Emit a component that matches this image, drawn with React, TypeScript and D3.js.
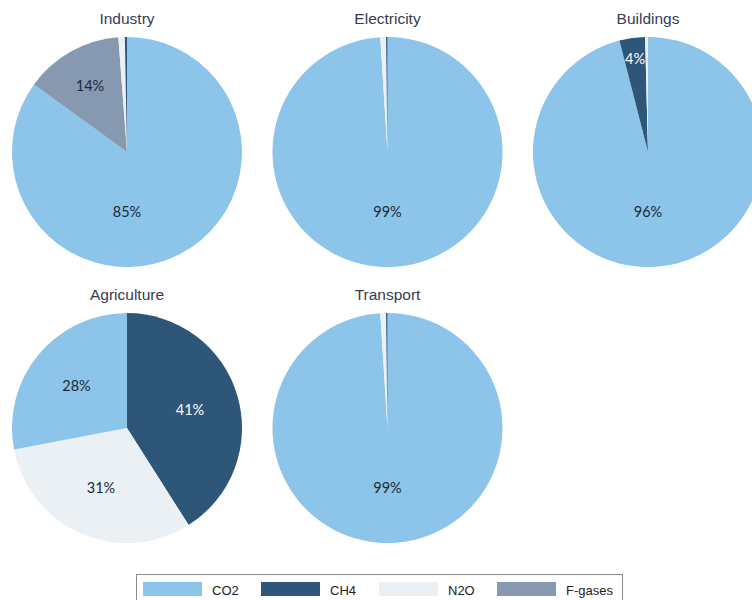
import React from "react";
import * as d3 from "d3";

const gases = ["CO2", "CH4", "N2O", "F-gases"];
const gasColors = ["#8cc4ea", "#2d5679", "#eaf0f4", "#8799b0"];
const labelColors = ["#1c2a3a", "#ffffff", "#1c2a3a", "#1c2a3a"];

const sectors = ["Industry", "Electricity", "Buildings", "Agriculture", "Transport"];
// shares per gas: CO2, CH4, N2O, F-gases
const industryShares = [85, 0.3, 0.9, 13.8];
const electricityShares = [99, 0.2, 0.8, 0];
const buildingsShares = [96, 3.6, 0.4, 0];
const agricultureShares = [28, 41, 31, 0];
const transportShares = [99, 0.2, 0.8, 0];
// clockwise drawing order of gases starting at 12 o'clock
const industryOrder = [0, 3, 2, 1];
const electricityOrder = [0, 2, 1, 3];
const buildingsOrder = [0, 1, 2, 3];
const agricultureOrder = [1, 2, 0, 3];
const transportOrder = [0, 2, 1, 3];

const sectorShares = [industryShares, electricityShares, buildingsShares, agricultureShares, transportShares];
const sectorOrders = [industryOrder, electricityOrder, buildingsOrder, agricultureOrder, transportOrder];
const sectorLabels = [
  ["85%", "", "", "14%"],
  ["99%", "", "", ""],
  ["96%", "4%", "", ""],
  ["28%", "41%", "31%", ""],
  ["99%", "", "", ""],
];

const W = 752;
const H = 600;
const R = 115;
const colX = d3.scaleLinear().domain([0, 2]).range([127, 648]);
const rowY = d3.scaleLinear().domain([0, 1]).range([152, 428]);

function Pie({ idx }: { idx: number }) {
  const shares = sectorShares[idx];
  const order = sectorOrders[idx];
  const items = order.map((g) => ({ gas: g, value: shares[g] }));
  const pie = d3
    .pie<{ gas: number; value: number }>()
    .value((d) => d.value)
    .sort(null);
  const arcs = pie(items);
  const arc = d3.arc<d3.PieArcDatum<{ gas: number; value: number }>>().innerRadius(0).outerRadius(R);
  const cx = colX(idx % 3);
  const cy = rowY(Math.floor(idx / 3));
  const total = d3.sum(shares);
  return (
    <g transform={`translate(${cx},${cy})`}>
      <text
        x={0}
        y={-R - 13}
        textAnchor="middle"
        fontFamily="Liberation Sans, Arial, sans-serif"
        fontSize={15.5}
        fill="#363c52"
      >
        {sectors[idx]}
      </text>
      {arcs.map((a, i) => (
        <path key={i} d={arc(a) || ""} fill={gasColors[a.data.gas]} />
      ))}
      {arcs.map((a, i) => {
        const label = sectorLabels[idx][a.data.gas];
        if (!label) return null;
        const frac = a.data.value / total;
        let ang = (a.startAngle + a.endAngle) / 2;
        let dist = R * 0.57;
        if (frac > 0.5) {
          ang = Math.PI;
          dist = R * 0.52;
        } else if (frac < 0.06) {
          dist = R * 0.82;
        } else if (frac < 0.2) {
          dist = R * 0.66;
        }
        const x = Math.sin(ang) * dist;
        const y = -Math.cos(ang) * dist;
        return (
          <text
            key={"l" + i}
            x={x}
            y={y}
            dy="0.35em"
            textAnchor="middle"
            fontFamily="Lato, Open Sans, sans-serif"
            fontSize={14.5}
            fill={labelColors[a.data.gas]}
          >
            {label}
          </text>
        );
      })}
    </g>
  );
}

const legendX = d3.scaleLinear().domain([0, 3]).range([143, 497]);

export default function App() {
  return (
    <svg
      width={W}
      height={H}
      style={{ position: "absolute", left: 0, top: 0, background: "#fff" }}
    >
      {sectors.map((s, i) => (
        <Pie key={s} idx={i} />
      ))}
      <rect x={136.5} y={574.5} width={486} height={40} fill="#fff" stroke="#8a8a8a" strokeWidth={1} />
      {gases.map((g, i) => (
        <g key={g} transform={`translate(${legendX(i)},582)`}>
          <rect x={0} y={0} width={59} height={14} fill={gasColors[i]} />
          <text
            x={69}
            y={13}
            fontFamily="Liberation Sans, Arial, sans-serif"
            fontSize={13}
            fill="#222"
          >
            {g}
          </text>
        </g>
      ))}
    </svg>
  );
}
